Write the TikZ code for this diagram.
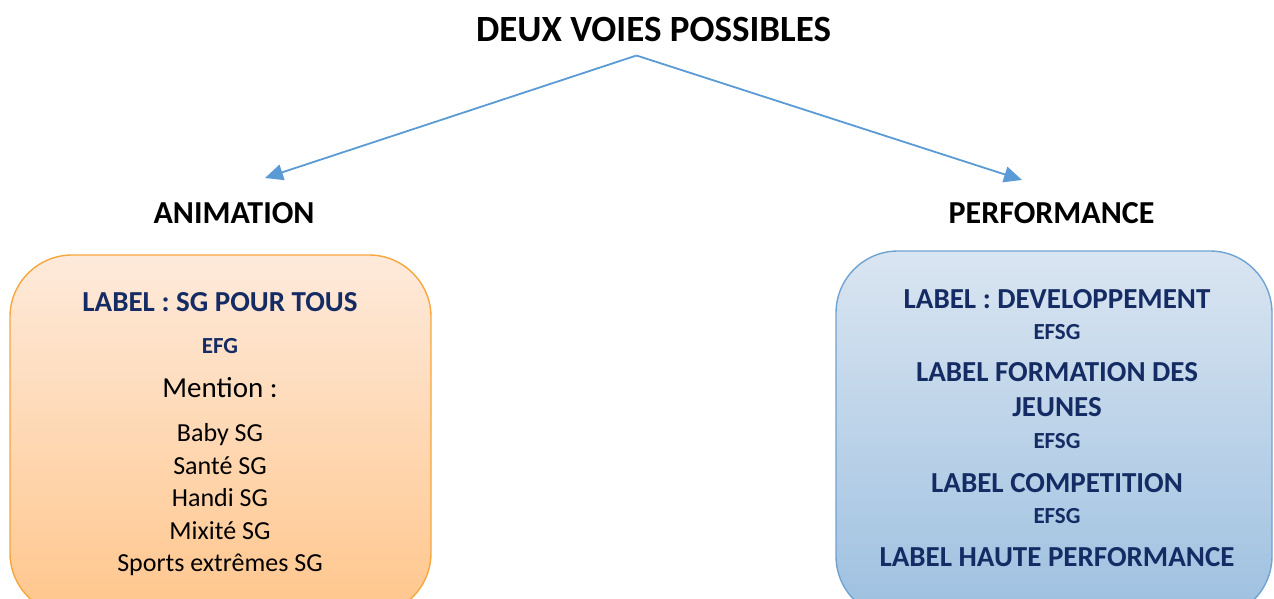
\documentclass[tikz,border=0pt]{standalone}
\usepackage{fontspec}
\setmainfont{Carlito}
\usetikzlibrary{arrows.meta}
\definecolor{navy}{HTML}{142B63}
\definecolor{arrowblue}{HTML}{5B9BD5}
\definecolor{orangetop}{HTML}{FEEADB}
\definecolor{orangebot}{HTML}{FFC68C}
\definecolor{orangeline}{HTML}{F7A73C}
\definecolor{bluetop}{HTML}{DAE5F1}
\definecolor{bluebot}{HTML}{9DC0E0}
\definecolor{blueline}{HTML}{6FA3D2}
\tikzset{%
    x=1pt, y=-1pt, % pixel grid, y down
    txt/.style={inner sep=0pt, outer sep=0pt, anchor=base},
    heading/.style={txt, font=\fontsize{32}{38}\selectfont\bfseries},
    labelbig/.style={txt, text=navy, font=\fontsize{29}{35}\selectfont\bfseries},
    labelsmall/.style={txt, text=navy, font=\fontsize{23}{28}\selectfont\bfseries},
    mention/.style={txt, font=\fontsize{26}{32}\selectfont},
    voie/.style={draw=arrowblue, line width=1.8pt,
        -{Triangle[length=18pt,width=16pt]}}
}

\begin{document}
\begin{tikzpicture}

    \clip (0,0) rectangle (1274,599);
    \fill[white] (0,0) rectangle (1274,599);

    % the two boxes
    \shade[top color=orangetop, bottom color=orangebot, draw=orangeline,
        line width=1.4pt, rounded corners=62pt] (10,255) rectangle (431,615);
    \shade[top color=bluetop, bottom color=bluebot, draw=blueline,
        line width=1.4pt, rounded corners=62pt] (836,251) rectangle (1272,618);

    % headings
    \node[heading, font=\fontsize{37}{44}\selectfont\bfseries] (titre) at (653.5,41.7) {DEUX VOIES POSSIBLES};
    \node[heading] (animation) at (234,223.3) {ANIMATION};
    \node[heading] (performance) at (1051.5,223.3) {PERFORMANCE};

    \coordinate (depart) at (636.5,55.5);
    \coordinate (versanim) at (265,178);
    \coordinate (versperf) at (1022,180);
    \draw[voie] (depart) -- (versanim);
    \draw[voie] (depart) -- (versperf);

    % left box
    \def\xa{220}
    \node[labelbig] (sgtous) at (\xa,311) {LABEL : SG POUR TOUS};
    \node[labelsmall] (efg) at (\xa,353.3) {EFG};
    \node[mention, font=\fontsize{29}{35}\selectfont] (mention) at (\xa,397.7) {Mention :};
    \node[mention] (baby) at (\xa,441.7) {Baby SG};
    \node[mention] (sante) at (\xa,474) {Santé SG};
    \node[mention] (handi) at (\xa,506.7) {Handi SG};
    \node[mention] (mixite) at (\xa,539) {Mixité SG};
    \node[mention] (extreme) at (\xa,571.7) {Sports extrêmes SG};

    % right box
    \def\xb{1057}
    \node[labelbig] (dev) at (\xb,308.3) {LABEL : DEVELOPPEMENT};
    \node[labelsmall] (efsga) at (\xb,339) {EFSG};
    \node[labelbig] (formation) at (\xb,381.7) {LABEL FORMATION DES};
    \node[labelbig] (jeunes) at (\xb,416.7) {JEUNES};
    \node[labelsmall] (efsgb) at (\xb,448.3) {EFSG};
    \node[labelbig] (competition) at (\xb,492.3) {LABEL COMPETITION};
    \node[labelsmall] (efsgc) at (\xb,523.3) {EFSG};
    \node[labelbig] (haute) at (\xb,566.7) {LABEL HAUTE PERFORMANCE};

\end{tikzpicture}
\end{document}
